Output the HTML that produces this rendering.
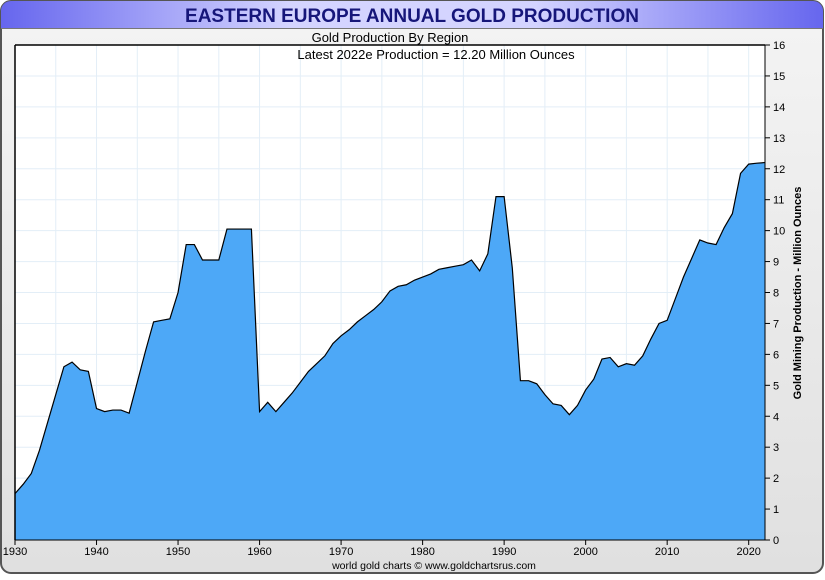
<!DOCTYPE html>
<html><head><meta charset="utf-8"><style>
body{margin:0;width:825px;height:575px;overflow:hidden;background:#fff;font-family:"Liberation Sans",sans-serif}
</style></head><body>
<svg width="825" height="575" xmlns="http://www.w3.org/2000/svg">
<defs>
<linearGradient id="tb" x1="0" x2="1"><stop offset="0" stop-color="#6666ee"/><stop offset="0.35" stop-color="#d4d4ff"/><stop offset="0.65" stop-color="#d4d4ff"/><stop offset="1" stop-color="#6666ee"/></linearGradient>
<linearGradient id="bg" x1="0" y1="0" x2="0" y2="1"><stop offset="0" stop-color="#f4f4f4"/><stop offset="1" stop-color="#e0e0e0"/></linearGradient>
</defs>
<rect x="1" y="1" width="822" height="572" rx="10" fill="url(#bg)" stroke="#555" stroke-width="2"/>
<path d="M1,28 V11 A10,10 0 0 1 11,1 H813 A10,10 0 0 1 823,11 V28 Z" fill="url(#tb)"/>
<line x1="1" y1="28.5" x2="823" y2="28.5" stroke="#777"/>
<text x="412" y="22" text-anchor="middle" font-size="19" font-weight="bold" fill="#16167a">EASTERN EUROPE ANNUAL GOLD PRODUCTION</text>
<text x="390" y="42" text-anchor="middle" font-size="13" fill="#000">Gold Production By Region</text>
<rect x="15" y="45" width="750" height="495" fill="#fff"/>
<g id="grid"></g>
<g id="area"></g>
<line x1="15" y1="45" x2="765" y2="45" stroke="#000" stroke-width="1.5"/>
<line x1="15" y1="45" x2="15" y2="540" stroke="#000" stroke-width="1.5"/>
<line x1="765" y1="45" x2="765" y2="540" stroke="#000" stroke-width="1"/>
<line x1="15" y1="540" x2="765" y2="540" stroke="#000" stroke-width="1"/>
<text x="436" y="59" text-anchor="middle" font-size="13" fill="#000">Latest 2022e Production = 12.20 Million Ounces</text>
<g id="yax"></g>
<g id="xax"></g>
<text transform="translate(801,293) rotate(-90)" text-anchor="middle" font-size="11" font-weight="bold" fill="#000">Gold Mining Production - Million Ounces</text>
<text x="434" y="569" text-anchor="middle" font-size="10.5" fill="#000">world gold charts © www.goldchartsrus.com</text>
</svg>
<script>
const startYear = 1930;
const production = [1.5,1.8,2.15,2.9,3.8,4.7,5.6,5.75,5.5,5.45,4.25,4.15,4.2,4.2,4.1,5.1,6.1,7.05,7.1,7.15,8.0,9.55,9.55,9.05,9.05,9.05,10.05,10.05,10.05,10.05,4.15,4.45,4.15,4.45,4.75,5.1,5.45,5.7,5.95,6.35,6.6,6.8,7.05,7.25,7.45,7.7,8.05,8.2,8.25,8.4,8.5,8.6,8.75,8.8,8.85,8.9,9.05,8.7,9.25,11.1,11.1,8.8,5.15,5.15,5.05,4.7,4.4,4.35,4.05,4.35,4.85,5.2,5.85,5.9,5.6,5.7,5.65,5.95,6.5,7.0,7.1,7.8,8.5,9.1,9.7,9.6,9.55,10.1,10.55,11.85,12.15,12.18,12.2];
const yTicks = [0,1,2,3,4,5,6,7,8,9,10,11,12,13,14,15,16];
const xTickYears = [1930,1940,1950,1960,1970,1980,1990,2000,2010,2020];
const NS="http://www.w3.org/2000/svg";
const x0=15,x1=765,y0=540,y1=45,yr0=1930,yr1=2022;
const X=yr=>x0+(yr-yr0)*(x1-x0)/(yr1-yr0);
const Y=v=>y0-v*(y0-y1)/16;
function mk(t,a,p){const e=document.createElementNS(NS,t);for(const k in a)e.setAttribute(k,a[k]);p.appendChild(e);return e;}
const grid=document.getElementById('grid'),yax=document.getElementById('yax'),xax=document.getElementById('xax'),area=document.getElementById('area');
yTicks.forEach(v=>{
  const g=mk('line',{x1:x0,x2:x1,y1:Y(v),y2:Y(v),stroke:'#e3eef7','stroke-width':1},grid);
  
  
  mk('line',{x1:x1,x2:x1+5,y1:Y(v),y2:Y(v),stroke:'#000'},yax);
  const t=mk('text',{x:x1+8,y:Y(v)+4,'font-size':11,fill:'#000'},yax);
  t.textContent=v;
  
  
});
for(let yr=1935;yr<=2020;yr+=5){
  const g=mk('line',{x1:X(yr),x2:X(yr),y1:y1,y2:y0,stroke:'#e3eef7','stroke-width':1},grid);
  
  
}
xTickYears.forEach(yr=>{
  mk('line',{x1:X(yr),x2:X(yr),y1:y0,y2:y0+5,stroke:'#000'},xax);
  const t=mk('text',{x:X(yr),y:y0+15,'font-size':11,'text-anchor':'middle',fill:'#000'},xax);
  t.textContent=yr;
  
  
});
let pts=production.map((v,i)=>X(startYear+i).toFixed(2)+','+Y(v).toFixed(2));
const poly=mk('polygon',{points:X(startYear)+','+y0+' '+pts.join(' ')+' '+X(startYear+production.length-1)+','+y0,fill:'#4da8f7'},area);


const line=mk('polyline',{points:pts.join(' '),fill:'none',stroke:'#000','stroke-width':1.2},area);


</script>
</body></html>
